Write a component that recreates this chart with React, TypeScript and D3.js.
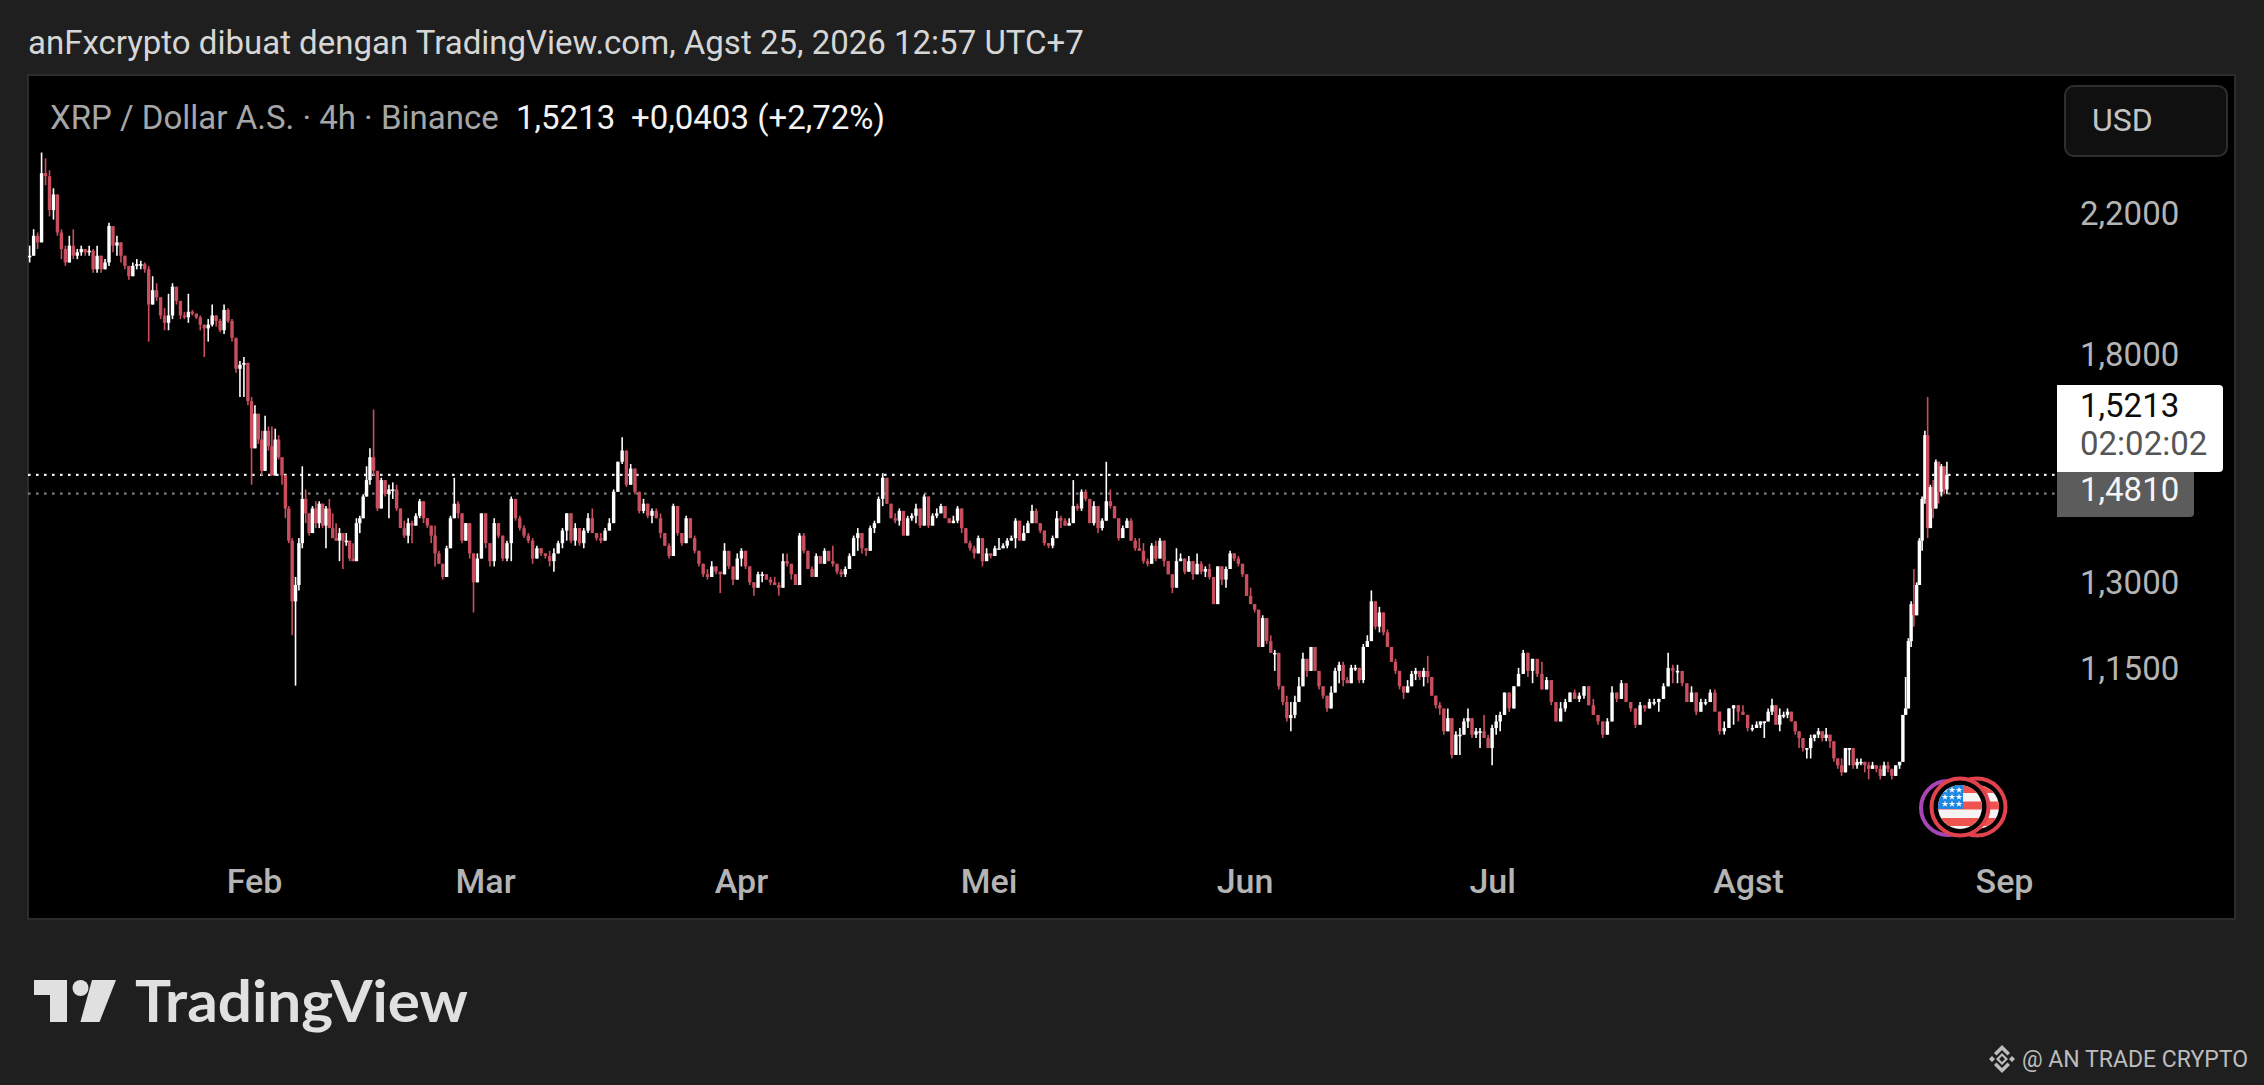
import React, { useEffect, useRef } from "react";
import * as d3 from "d3";

type Candle = [number, number, number]; // close, high, low

const januaryCandles: Candle[] = [
  [2.08,2.11,2.06],[2.14,2.16,2.08],[2.12,2.15,2.10],[2.34,2.41,2.12],[2.33,2.39,2.30],[2.22,2.35,2.20],
  [2.27,2.29,2.19],[2.15,2.24,2.14],[2.10,2.16,2.07],[2.06,2.11,2.05],[2.11,2.14,2.06],[2.08,2.16,2.07],
  [2.09,2.10,2.07],[2.10,2.11,2.08],[2.09,2.10,2.08],[2.095,2.11,2.08],[2.04,2.10,2.03],[2.08,2.11,2.03],
  [2.04,2.07,2.03],[2.06,2.07,2.04],[2.17,2.18,2.05],[2.11,2.16,2.09],[2.12,2.14,2.08],[2.08,2.12,2.06],
  [2.05,2.08,2.04],[2.02,2.05,2.01],[2.05,2.06,2.02],[2.055,2.07,2.04],[2.055,2.065,2.04],[2.04,2.06,2.03],
  [1.94,2.05,1.84],[1.98,2.02,1.94],[1.96,2.00,1.95],[1.91,1.96,1.90],[1.89,1.93,1.87],[1.91,1.97,1.87],
  [1.99,2.00,1.90],[1.95,1.99,1.94],[1.91,1.95,1.90],[1.905,1.92,1.90],[1.92,1.97,1.89],[1.915,1.925,1.91],
  [1.905,1.915,1.90],[1.885,1.91,1.87],[1.875,1.885,1.80],[1.885,1.90,1.84],[1.91,1.94,1.88],[1.895,1.91,1.88],
  [1.87,1.90,1.865],[1.925,1.94,1.86],[1.895,1.93,1.89],[1.85,1.90,1.84],[1.77,1.85,1.76],[1.78,1.79,1.70],
  [1.785,1.80,1.70],[1.69,1.74,1.68],
];

const februaryEarlyCandles: Candle[] = [
  [1.58,1.70,1.50],[1.66,1.68,1.58],[1.60,1.65,1.59],[1.53,1.62,1.52],[1.62,1.655,1.58],[1.585,1.63,1.575],
  [1.52,1.63,1.52],[1.60,1.625,1.56],[1.56,1.61,1.555],[1.52,1.56,1.50],[1.45,1.51,1.43],[1.385,1.455,1.38],
  [1.27,1.39,1.21],[1.30,1.315,1.126],[1.38,1.39,1.29],[1.47,1.54,1.37],[1.44,1.49,1.42],[1.40,1.44,1.395],
  [1.45,1.455,1.41],[1.42,1.465,1.41],[1.46,1.465,1.41],[1.415,1.46,1.41],[1.45,1.455,1.37],[1.41,1.47,1.41],
  [1.39,1.44,1.39],[1.385,1.42,1.385],[1.40,1.41,1.345],[1.385,1.40,1.33],[1.385,1.40,1.375],[1.35,1.385,1.345],
  [1.345,1.38,1.345],[1.42,1.43,1.36],[1.43,1.435,1.40],[1.475,1.48,1.43],[1.51,1.54,1.48],[1.56,1.58,1.50],
];

const februaryLateCandles: Candle[] = [
  [1.53,1.67,1.52],[1.45,1.53,1.445],[1.51,1.515,1.46],[1.48,1.51,1.475],[1.49,1.50,1.43],[1.49,1.505,1.47],
  [1.45,1.50,1.445],[1.41,1.44,1.41],[1.395,1.425,1.39],[1.42,1.43,1.38],[1.415,1.425,1.38],[1.435,1.44,1.415],
  [1.465,1.47,1.43],[1.43,1.465,1.42],[1.415,1.43,1.41],[1.395,1.415,1.38],[1.36,1.415,1.335],[1.34,1.365,1.34],
  [1.315,1.34,1.31],[1.37,1.375,1.33],[1.43,1.435,1.37],[1.46,1.515,1.43],[1.44,1.465,1.43],[1.385,1.42,1.38],
  [1.42,1.42,1.385],[1.36,1.385,1.35],[1.305,1.36,1.25],[1.35,1.36,1.31],
];

const marchCandles: Candle[] = [
  [1.44,1.44,1.36],[1.38,1.41,1.37],[1.345,1.38,1.335],[1.42,1.43,1.335],[1.395,1.42,1.39],[1.35,1.385,1.345],
  [1.38,1.385,1.345],[1.47,1.475,1.345],[1.43,1.47,1.425],[1.41,1.435,1.405],[1.395,1.415,1.39],[1.385,1.40,1.38],
  [1.35,1.39,1.34],[1.37,1.375,1.36],[1.36,1.37,1.355],[1.355,1.36,1.35],[1.345,1.365,1.335],[1.36,1.37,1.325],
  [1.38,1.385,1.36],[1.405,1.41,1.37],[1.44,1.44,1.385],[1.385,1.41,1.38],[1.41,1.42,1.375],[1.38,1.395,1.375],
  [1.405,1.41,1.37],[1.43,1.44,1.40],[1.40,1.45,1.40],[1.39,1.40,1.385],[1.385,1.40,1.38],[1.405,1.41,1.39],
  [1.42,1.43,1.41],[1.485,1.49,1.42],[1.55,1.55,1.485],[1.575,1.605,1.545],[1.50,1.55,1.495],[1.535,1.545,1.50],
  [1.485,1.525,1.48],[1.445,1.485,1.44],[1.46,1.47,1.44],[1.435,1.46,1.43],[1.445,1.45,1.42],[1.43,1.45,1.43],
  [1.40,1.44,1.39],[1.375,1.40,1.375],[1.355,1.38,1.35],[1.455,1.46,1.365],[1.40,1.43,1.395],[1.38,1.40,1.375],
  [1.43,1.435,1.39],[1.39,1.415,1.39],[1.365,1.395,1.36],[1.34,1.365,1.335],[1.32,1.34,1.315],[1.315,1.33,1.31],
  [1.335,1.345,1.32],[1.325,1.335,1.32],[1.32,1.325,1.285],[1.365,1.38,1.34],[1.335,1.36,1.33],[1.31,1.335,1.30],
];

const aprilCandles: Candle[] = [
  [1.35,1.36,1.315],[1.365,1.37,1.335],[1.335,1.365,1.33],[1.305,1.32,1.30],[1.295,1.305,1.28],[1.32,1.325,1.30],
  [1.32,1.325,1.305],[1.31,1.32,1.31],[1.305,1.315,1.30],[1.30,1.315,1.30],[1.295,1.305,1.28],[1.345,1.36,1.305],
  [1.34,1.36,1.335],[1.32,1.325,1.31],[1.30,1.315,1.30],[1.395,1.40,1.30],[1.365,1.40,1.36],[1.33,1.365,1.33],
  [1.315,1.335,1.315],[1.355,1.36,1.335],[1.34,1.35,1.34],[1.365,1.37,1.34],[1.345,1.355,1.345],[1.34,1.375,1.335],
  [1.325,1.335,1.32],[1.32,1.33,1.315],[1.33,1.335,1.315],[1.355,1.36,1.33],[1.39,1.395,1.355],[1.40,1.41,1.365],
  [1.37,1.395,1.36],[1.365,1.37,1.355],[1.41,1.415,1.37],[1.42,1.425,1.40],[1.47,1.475,1.43],[1.515,1.525,1.455],
  [1.46,1.50,1.46],[1.43,1.455,1.43],[1.425,1.44,1.42],[1.445,1.45,1.415],[1.395,1.425,1.395],[1.43,1.435,1.41],
  [1.435,1.44,1.425],[1.45,1.46,1.42],[1.415,1.45,1.41],[1.475,1.48,1.435],[1.415,1.435,1.41],[1.435,1.44,1.415],
  [1.44,1.45,1.43],[1.455,1.46,1.445],[1.43,1.455,1.43],[1.42,1.43,1.42],[1.425,1.435,1.42],[1.45,1.455,1.42],
  [1.41,1.42,1.40],[1.38,1.395,1.38],[1.37,1.385,1.365],[1.36,1.375,1.35],[1.39,1.395,1.37],[1.345,1.375,1.335],
];

const mayCandles: Candle[] = [
  [1.36,1.37,1.345],[1.355,1.36,1.35],[1.37,1.375,1.36],[1.37,1.39,1.37],[1.375,1.38,1.375],[1.385,1.39,1.37],
  [1.39,1.395,1.385],[1.425,1.43,1.37],[1.385,1.415,1.385],[1.40,1.415,1.395],[1.42,1.425,1.41],[1.445,1.458,1.43],
  [1.42,1.45,1.42],[1.405,1.42,1.40],[1.38,1.39,1.375],[1.375,1.38,1.37],[1.39,1.395,1.37],[1.43,1.445,1.40],
  [1.425,1.435,1.41],[1.415,1.43,1.415],[1.42,1.43,1.42],[1.455,1.51,1.445],[1.45,1.46,1.445],[1.485,1.49,1.445],
  [1.47,1.49,1.465],[1.42,1.46,1.42],[1.455,1.465,1.415],[1.41,1.425,1.40],[1.425,1.43,1.405],[1.465,1.55,1.425],
  [1.455,1.49,1.45],[1.43,1.44,1.43],[1.39,1.415,1.385],[1.41,1.415,1.40],[1.425,1.43,1.41],[1.385,1.43,1.385],
  [1.37,1.39,1.365],[1.365,1.39,1.365],[1.345,1.38,1.34],[1.34,1.35,1.335],[1.375,1.38,1.36],[1.35,1.385,1.345],
  [1.385,1.39,1.35],[1.345,1.37,1.335],[1.32,1.345,1.32],[1.295,1.32,1.285],[1.345,1.37,1.32],[1.35,1.36,1.345],
  [1.325,1.35,1.32],[1.345,1.355,1.34],[1.32,1.335,1.31],[1.34,1.36,1.335],[1.325,1.345,1.32],[1.33,1.335,1.315],
  [1.315,1.34,1.31],[1.265,1.31,1.265],[1.335,1.335,1.28],[1.31,1.33,1.30],[1.33,1.335,1.295],[1.36,1.365,1.335],
  [1.35,1.36,1.345],[1.34,1.355,1.335],[1.32,1.34,1.315],
];

const juneCandles: Candle[] = [
  [1.28,1.31,1.28],[1.265,1.295,1.265],[1.255,1.265,1.25],[1.19,1.24,1.19],[1.24,1.245,1.20],[1.20,1.235,1.195],
  [1.18,1.21,1.18],[1.18,1.185,1.15],[1.125,1.155,1.12],[1.10,1.126,1.095],[1.075,1.11,1.07],[1.08,1.10,1.055],
  [1.10,1.11,1.075],[1.125,1.14,1.12],[1.17,1.18,1.135],[1.15,1.17,1.14],[1.19,1.19,1.15],[1.15,1.18,1.15],
  [1.125,1.15,1.12],[1.11,1.125,1.105],[1.09,1.11,1.085],[1.115,1.125,1.10],[1.15,1.155,1.125],[1.16,1.165,1.13],
  [1.135,1.165,1.125],[1.13,1.14,1.13],[1.155,1.16,1.14],[1.155,1.16,1.15],[1.135,1.15,1.13],[1.19,1.195,1.13],
  [1.20,1.21,1.19],[1.27,1.29,1.24],[1.225,1.27,1.22],[1.25,1.26,1.215],[1.215,1.235,1.21],[1.19,1.22,1.19],
  [1.165,1.19,1.165],[1.15,1.17,1.145],[1.125,1.145,1.12],[1.115,1.125,1.105],[1.125,1.135,1.115],[1.145,1.15,1.13],
  [1.15,1.155,1.135],[1.14,1.15,1.135],[1.15,1.155,1.125],[1.14,1.175,1.13],[1.11,1.13,1.11],[1.095,1.11,1.09],
  [1.09,1.10,1.08],[1.055,1.08,1.05],[1.075,1.09,1.06],[1.02,1.065,1.015],[1.05,1.055,1.02],[1.05,1.06,1.02],
  [1.07,1.075,1.05],[1.075,1.09,1.06],[1.05,1.06,1.045],[1.055,1.06,1.045],[1.055,1.06,1.03],[1.045,1.08,1.045],
  [1.03,1.05,1.03],[1.06,1.065,1.005],[1.07,1.08,1.05],[1.08,1.085,1.055],
];

const julyCandles: Candle[] = [
  [1.115,1.115,1.08],[1.09,1.095,1.085],[1.125,1.125,1.10],[1.145,1.155,1.125],[1.18,1.185,1.145],[1.15,1.155,1.14],
  [1.17,1.17,1.13],[1.145,1.15,1.14],[1.12,1.165,1.12],[1.135,1.14,1.12],[1.10,1.12,1.095],[1.07,1.10,1.07],
  [1.09,1.10,1.08],[1.10,1.105,1.085],[1.115,1.115,1.10],[1.105,1.12,1.105],[1.11,1.115,1.10],[1.125,1.125,1.105],
  [1.095,1.11,1.095],[1.08,1.105,1.08],[1.07,1.08,1.065],[1.05,1.065,1.045],[1.07,1.075,1.055],[1.115,1.125,1.08],
  [1.105,1.115,1.10],[1.13,1.135,1.11],[1.10,1.125,1.10],[1.09,1.10,1.085],[1.065,1.085,1.06],[1.095,1.10,1.08],
  [1.09,1.095,1.085],[1.10,1.105,1.09],[1.10,1.105,1.095],[1.105,1.105,1.085],[1.125,1.13,1.11],[1.155,1.18,1.13],
  [1.15,1.16,1.13],[1.15,1.16,1.13],[1.13,1.145,1.125],[1.10,1.125,1.10],[1.115,1.125,1.10],[1.085,1.095,1.08],
  [1.10,1.105,1.085],[1.10,1.105,1.095],[1.115,1.12,1.10],[1.085,1.12,1.085],[1.055,1.085,1.05],[1.06,1.07,1.05],
  [1.09,1.09,1.065],[1.095,1.095,1.065],[1.085,1.09,1.07],[1.08,1.095,1.08],[1.06,1.075,1.055],[1.06,1.065,1.055],
];

const augustCandles: Candle[] = [
  [1.065,1.07,1.06],[1.07,1.07,1.06],[1.07,1.07,1.045],[1.085,1.09,1.07],[1.095,1.105,1.08],[1.065,1.085,1.065],
  [1.08,1.09,1.055],[1.08,1.085,1.075],[1.085,1.09,1.075],[1.07,1.08,1.07],[1.055,1.07,1.05],[1.045,1.055,1.03],
  [1.03,1.04,1.025],[1.03,1.03,1.015],[1.045,1.05,1.015],[1.05,1.05,1.04],[1.055,1.06,1.045],[1.045,1.05,1.04],
  [1.05,1.06,1.04],[1.04,1.05,1.03],[1.015,1.03,1.01],[1.005,1.015,1.00],[0.995,1.015,0.99],[1.03,1.03,1.01],
  [1.03,1.03,1.005],[1.005,1.015,1.0],[1.01,1.015,1.0],[1.01,1.015,1.005],[1.005,1.01,0.995],[1.0,1.01,0.985],
  [1.005,1.01,1.0],[1.0,1.005,0.995],[0.99,1.005,0.985],[1.005,1.01,0.995],[1.0,1.01,0.995],[0.99,1.0,0.985],
  [1.005,1.005,0.995],[1.01,1.01,1.0],
];

const rallyCandles: Candle[] = [
  [1.08,1.08,1.01],[1.09,1.14,1.085],[1.20,1.205,1.09],[1.265,1.27,1.19],[1.245,1.33,1.225],[1.30,1.305,1.27],
  [1.385,1.39,1.30],[1.47,1.475,1.365],[1.61,1.62,1.46],[1.41,1.70,1.39],[1.495,1.50,1.44],[1.45,1.51,1.43],
  [1.55,1.555,1.45],[1.485,1.54,1.46],[1.54,1.545,1.475],[1.49,1.53,1.48],[1.5213,1.55,1.48],
];

// each list runs evenly between two neighbouring dates here
const segmentEdges = [
  "2026-01-04T14:00:00", "2026-01-31T12:00:00", "2026-02-15T06:00:00", "2026-02-28T07:00:00", "2026-03-31T07:00:00",
  "2026-04-30T12:00:00", "2026-06-01T00:00:00", "2026-07-02T05:00:00", "2026-08-01T19:00:00", "2026-08-19T14:00:00",
  "2026-08-25T06:00:00",
];
const segments = [
  januaryCandles, februaryEarlyCandles, februaryLateCandles, marchCandles, aprilCandles,
  mayCandles, juneCandles, julyCandles, augustCandles, rallyCandles,
];

const monthTicks = ["2026-02-01", "2026-03-01", "2026-04-01", "2026-05-01", "2026-06-01", "2026-07-01", "2026-08-01", "2026-09-01"];
const monthLabels = ["Feb", "Mar", "Apr", "Mei", "Jun", "Jul", "Agst", "Sep"];
const priceTicks = [2.2, 1.8, 1.3, 1.15];

const lastPrice = 1.5213;
const markPrice = 1.481;

const FONT = "Roboto, sans-serif";
const utc = (s: string) => new Date(s.includes("T") ? s + "Z" : s + "T00:00:00Z");
const commaPrice = (v: number) => d3.format(".4f")(v).replace(".", ",");

export default function App() {
  const svgRef = useRef<SVGSVGElement>(null);

  useEffect(() => {
    const svg = d3.select(svgRef.current);
    svg.selectAll("*").remove();

    const x = d3.scaleUtc().domain([utc("2026-02-01"), utc("2026-09-01")]).range([254, 2004]);
    const y = d3.scaleLog().domain([1.8, 1.3]).range([357, 585]);

    svg.append("rect").attr("width", 2264).attr("height", 1085).attr("fill", "#1f1f1f");
    svg.append("rect").attr("x", 28).attr("y", 75).attr("width", 2207).attr("height", 844)
      .attr("fill", "#000").attr("stroke", "#2c2c2c").attr("stroke-width", 2);

    // header
    svg.append("text").attr("x", 28).attr("y", 54).attr("font-family", FONT).attr("font-size", 33)
      .attr("fill", "#d6d6d6").text("anFxcrypto dibuat dengan TradingView.com, Agst 25, 2026 12:57 UTC+7");

    const legend = svg.append("text").attr("x", 50).attr("y", 129).attr("font-family", FONT).attr("font-size", 33);
    legend.append("tspan").attr("fill", "#a6a6a6").text("XRP / Dollar A.S. · 4h · Binance");
    legend.append("tspan").attr("x", 516).attr("fill", "#f2f2f2").text(commaPrice(lastPrice));
    legend.append("tspan").attr("x", 631).attr("fill", "#f2f2f2").text("+0,0403 (+2,72%)");

    svg.append("rect").attr("x", 2065).attr("y", 86).attr("width", 162).attr("height", 70).attr("rx", 9)
      .attr("fill", "#101010").attr("stroke", "#2e2e2e").attr("stroke-width", 2);
    svg.append("text").attr("x", 2092).attr("y", 131).attr("font-family", FONT).attr("font-size", 32)
      .attr("fill", "#c4c4c4").text("USD");

    // price lines
    svg.append("line").attr("x1", 28).attr("x2", 2057).attr("y1", y(lastPrice)).attr("y2", y(lastPrice))
      .attr("stroke", "#f0f0f0").attr("stroke-width", 2.4).attr("stroke-dasharray", "2.6 5.4");
    svg.append("line").attr("x1", 28).attr("x2", 2057).attr("y1", y(markPrice)).attr("y2", y(markPrice))
      .attr("stroke", "#7c7c7c").attr("stroke-width", 2.2).attr("stroke-dasharray", "2.6 5.4");

    // candles
    const candles: { date: Date; open: number; close: number; high: number; low: number }[] = [];
    let prevClose = januaryCandles[0][0];
    segments.forEach((list, s) => {
      const t0 = utc(segmentEdges[s]).getTime();
      const t1 = utc(segmentEdges[s + 1]).getTime();
      list.forEach(([close, high, low], i) => {
        candles.push({ date: new Date(t0 + ((t1 - t0) * (i + 0.5)) / list.length), open: prevClose, close, high, low });
        prevClose = close;
      });
    });
    const color = (d: { open: number; close: number }) => (d.close >= d.open ? "#ffffff" : "#c94f5e");
    const g = svg.append("g");
    g.selectAll(".wick").data(candles).enter().append("line")
      .attr("x1", (d) => x(d.date)).attr("x2", (d) => x(d.date))
      .attr("y1", (d) => y(Math.max(d.high, d.open, d.close))).attr("y2", (d) => y(Math.min(d.low, d.open, d.close)))
      .attr("stroke", color).attr("stroke-width", 1.6);
    g.selectAll(".body").data(candles).enter().append("rect")
      .attr("x", (d) => x(d.date) - 1.7).attr("width", 3.4)
      .attr("y", (d) => y(Math.max(d.open, d.close)))
      .attr("height", (d) => Math.max(1.6, Math.abs(y(d.open) - y(d.close))))
      .attr("fill", color);

    // axes
    const xAxis = svg.append("g").attr("transform", "translate(0,869)").call(
      d3.axisBottom(x).tickValues(monthTicks.map(utc)).tickSize(0).tickPadding(0)
        .tickFormat((_, i) => monthLabels[i])
    );
    xAxis.select(".domain").remove();
    xAxis.selectAll("text").attr("font-family", FONT).attr("font-size", 34).attr("font-weight", 500).attr("fill", "#b4b4b4");

    const yAxis = svg.append("g").attr("transform", "translate(2080,-2)").call(
      d3.axisRight(y).tickValues(priceTicks).tickSize(0).tickPadding(0)
        .tickFormat((d) => commaPrice(d as number))
    );
    yAxis.select(".domain").remove();
    yAxis.selectAll("text").attr("font-family", FONT).attr("font-size", 33).attr("fill", "#b4b4b4");

    // last price labels
    svg.append("path").attr("d", "M2057 472H2194V513a4 4 0 0 1-4 4H2057Z").attr("fill", "#5c5c5c");
    svg.append("path").attr("d", "M2057 385H2219a4 4 0 0 1 4 4V468a4 4 0 0 1-4 4H2057Z").attr("fill", "#ffffff");
    svg.append("text").attr("x", 2080).attr("y", 417).attr("font-family", FONT).attr("font-size", 33).attr("fill", "#0c0c0c").text(commaPrice(lastPrice));
    svg.append("text").attr("x", 2080).attr("y", 455).attr("font-family", FONT).attr("font-size", 33).attr("fill", "#555").text("02:02:02");
    svg.append("text").attr("x", 2080).attr("y", 501).attr("font-family", FONT).attr("font-size", 33).attr("fill", "#f4f4f4").text(commaPrice(markPrice));

    // event flags
    const defs = svg.append("defs");
    const flag = (cx: number, id: string) => {
      defs.append("clipPath").attr("id", id).append("circle").attr("cx", cx).attr("cy", 807).attr("r", 22);
      const f = svg.append("g").attr("clip-path", `url(#${id})`);
      f.append("rect").attr("x", cx - 22).attr("y", 785).attr("width", 44).attr("height", 44).attr("fill", "#f4f4f4");
      [785, 801.5, 818].forEach((sy) =>
        f.append("rect").attr("x", cx - 22).attr("y", sy).attr("width", 44).attr("height", 8).attr("fill", "#ef5350"));
      f.append("rect").attr("x", cx - 22).attr("y", 785).attr("width", 25).attr("height", 24).attr("fill", "#1e88e5");
      const star = d3.symbol().type(d3.symbolStar).size(14);
      [790, 797, 804].forEach((sy) =>
        [cx - 15, cx - 8, cx - 1].forEach((sx) =>
          f.append("path").attr("d", star()).attr("transform", `translate(${sx},${sy})`).attr("fill", "#fff")));
    };
    svg.append("circle").attr("cx", 1948).attr("cy", 808).attr("r", 27).attr("fill", "#000").attr("stroke", "#a845b5").attr("stroke-width", 4);
    svg.append("circle").attr("cx", 1977).attr("cy", 807).attr("r", 28.5).attr("fill", "#000").attr("stroke", "#e0424e").attr("stroke-width", 4);
    flag(1977, "flag-back");
    svg.append("circle").attr("cx", 1960).attr("cy", 807).attr("r", 28.5).attr("fill", "#000").attr("stroke", "#e0424e").attr("stroke-width", 4);
    flag(1960, "flag-front");

    // tradingview logo
    svg.append("path").attr("d", "M34 980H67V1022H50V995H34Z").attr("fill", "#e0e0e0");
    svg.append("circle").attr("cx", 80.5).attr("cy", 988).attr("r", 8).attr("fill", "#e0e0e0");
    svg.append("path").attr("d", "M92 980H116L99.5 1022H80.4Z").attr("fill", "#e0e0e0");
    svg.append("text").attr("x", 135).attr("y", 1022).attr("font-family", "Lato, sans-serif").attr("font-weight", 700)
      .attr("font-size", 58).attr("textLength", 333).attr("lengthAdjust", "spacingAndGlyphs").attr("fill", "#e0e0e0").text("TradingView");

    // watermark
    const mark = svg.append("g").attr("transform", "translate(2002,1059)").attr("fill", "#bdbdbd");
    mark.append("path").attr("fill-rule", "evenodd").attr("d", "M0 -6L6 0L0 6L-6 0ZM0 -3L-3 0L0 3L3 0Z");
    mark.append("path").attr("d", "M-13 0L-10 -3L-7 0L-10 3ZM13 0L10 -3L7 0L10 3Z");
    mark.append("path").attr("d", "M0 -14L8 -6L5.5 -3.5L0 -9L-5.5 -3.5L-8 -6ZM0 14L8 6L5.5 3.5L0 9L-5.5 3.5L-8 6Z");
    svg.append("text").attr("x", 2022).attr("y", 1067).attr("font-family", FONT).attr("font-size", 23)
      .attr("fill", "#bdbdbd").text("@ AN TRADE CRYPTO");
  }, []);

  return <svg ref={svgRef} width={2264} height={1085} style={{ position: "absolute", left: 0, top: 0 }}></svg>;
}
